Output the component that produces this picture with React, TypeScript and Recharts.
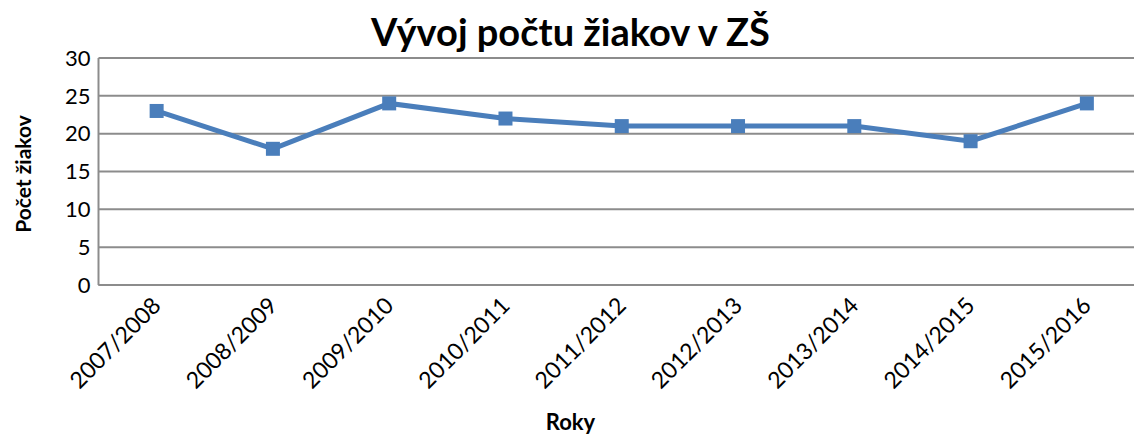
import React from "react";
import { LineChart, Line, XAxis, YAxis, CartesianGrid } from "recharts";

const categories = [
  "2007/2008",
  "2008/2009",
  "2009/2010",
  "2010/2011",
  "2011/2012",
  "2012/2013",
  "2013/2014",
  "2014/2015",
  "2015/2016",
];
const pupils = [23, 18, 24, 22, 21, 21, 21, 19, 24];
const yTicks = [0, 5, 10, 15, 20, 25, 30];

const title = "Vývoj počtu žiakov v ZŠ";
const yTitle = "Počet žiakov";
const xTitle = "Roky";

const data = categories.map((c, i) => ({ year: c, value: pupils[i] }));

const FONT = "Lato, 'Open Sans', sans-serif";
const BLUE = "#4A7EBB";
const GRID = "#8C8C8C";

const XTick = (props: any) => {
  const { x, y, payload } = props;
  return (
    <g transform={`translate(${x},${y})`}>
      <text
        x={0}
        y={0}
        dx={-6}
        dy={14}
        textAnchor="end"
        transform="rotate(-45)"
        fontFamily={FONT}
        fontSize={23}
        fill="#000"
      >
        {payload.value}
      </text>
    </g>
  );
};

const SquareDot = (props: any) => {
  const { cx, cy, index } = props;
  if (cx == null || cy == null) return <g key={index} />;
  return <rect key={index} x={cx - 7} y={cy - 7} width={14} height={14} fill={BLUE} />;
};

export default function App() {
  return (
    <div
      style={{
        position: "fixed",
        left: 0,
        top: 0,
        width: 1134,
        height: 436,
        overflow: "hidden",
        background: "#fff",
        fontFamily: FONT,
      }}
    >
      <div
        style={{
          position: "absolute",
          left: 0,
          width: 1141,
          top: 8,
          textAlign: "center",
          fontSize: 38,
          fontWeight: 700,
          lineHeight: "46px",
          color: "#000",
        }}
      >
        {title}
      </div>
      <div
        style={{
          position: "absolute",
          left: 22,
          top: 174,
          transform: "translate(-50%, -50%) rotate(-90deg)",
          fontSize: 21,
          fontWeight: 700,
          whiteSpace: "nowrap",
          color: "#000",
        }}
      >
        {yTitle}
      </div>
      <div
        style={{
          position: "absolute",
          left: 0,
          width: 1141,
          top: 409,
          textAlign: "center",
          fontSize: 22,
          fontWeight: 700,
          lineHeight: "26px",
          color: "#000",
        }}
      >
        {xTitle}
      </div>
      <div style={{ position: "absolute", left: 0, top: 0 }}>
        <LineChart
          width={1160}
          height={436}
          data={data}
          margin={{ top: 58, right: 15, bottom: 0, left: 0 }}
        >
          <CartesianGrid vertical={false} stroke={GRID} strokeWidth={2} />
          <XAxis
            dataKey="year"
            scale="band"
            height={151}
            tickLine={false}
            axisLine={{ stroke: GRID, strokeWidth: 2 }}
            tick={<XTick />}
            interval={0}
          />
          <YAxis
            width={98.5}
            domain={[0, 30]}
            ticks={yTicks}
            tickLine={false}
            tickSize={0}
            tickMargin={8}
            axisLine={{ stroke: GRID, strokeWidth: 2 }}
            tick={{ fontFamily: FONT, fontSize: 22, fill: "#000" }}
          />
          <Line
            type="linear"
            dataKey="value"
            stroke={BLUE}
            strokeWidth={5}
            dot={SquareDot}
            activeDot={false}
            isAnimationActive={false}
          />
        </LineChart>
      </div>
    </div>
  );
}
